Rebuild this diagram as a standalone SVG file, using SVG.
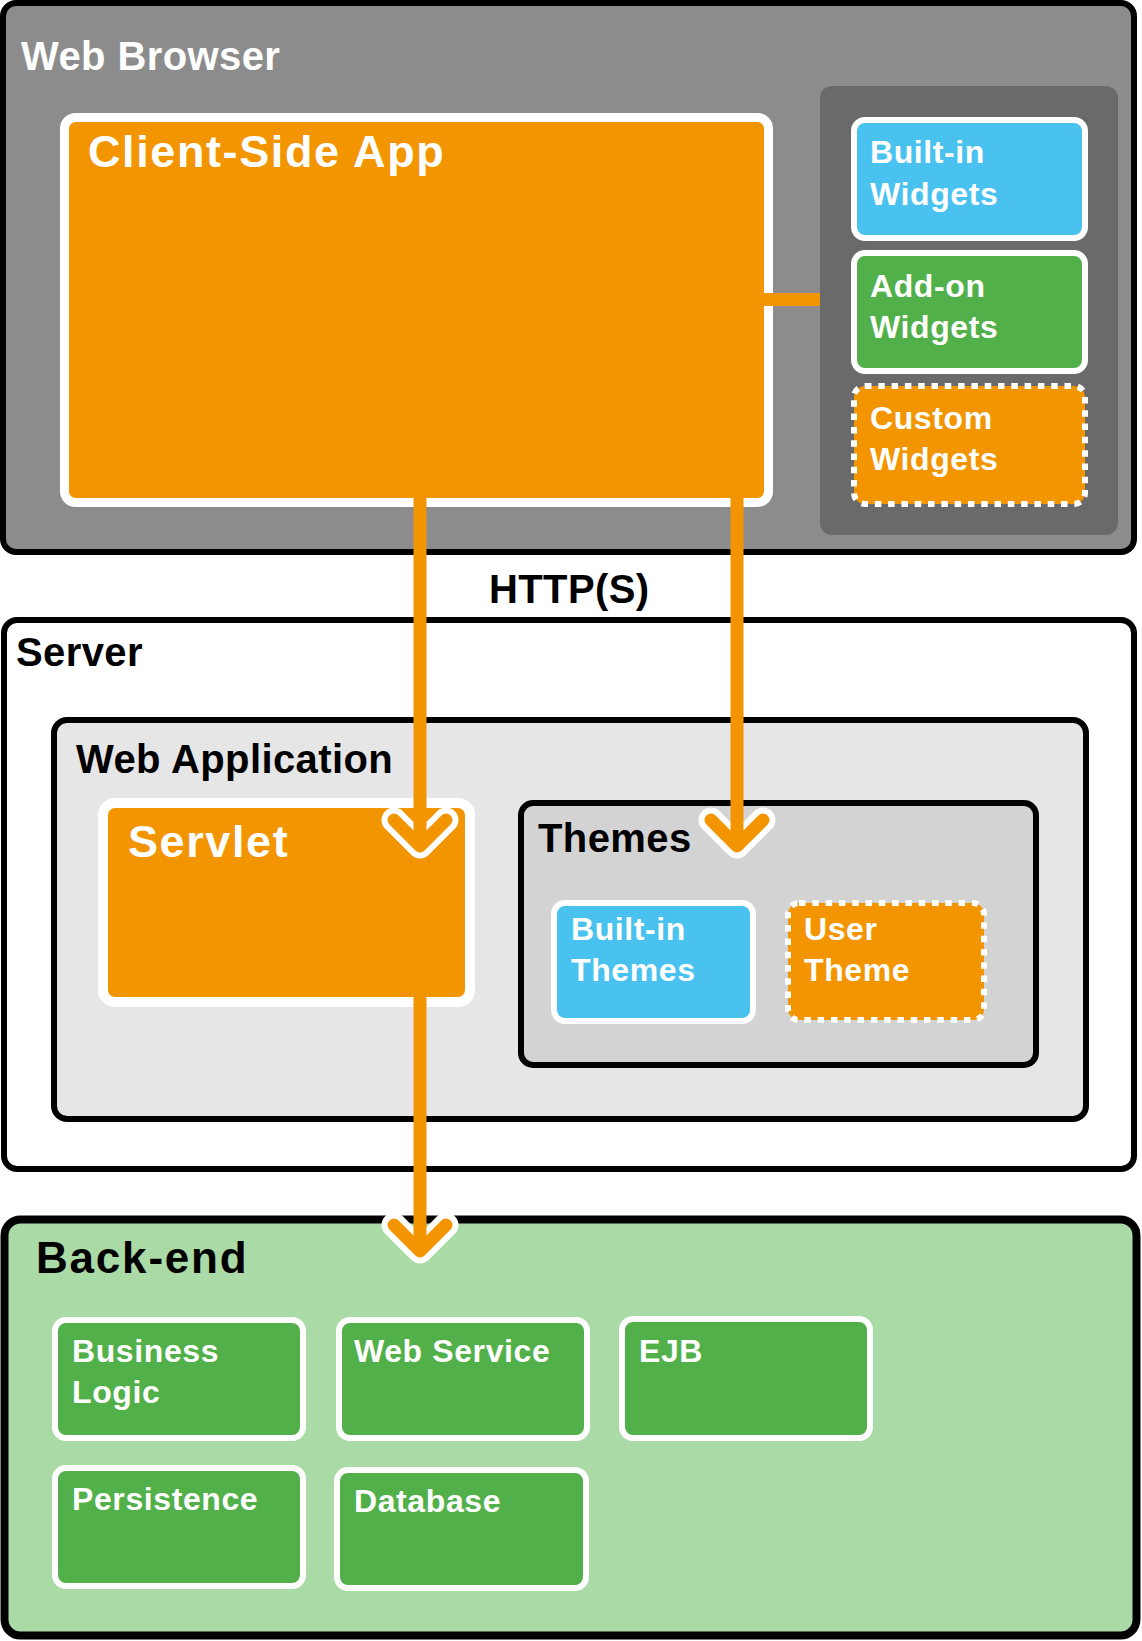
<svg xmlns="http://www.w3.org/2000/svg" width="1142" height="1641" viewBox="0 0 1142 1641">
<style>
.t{font-family:'Liberation Sans',Arial,sans-serif;font-weight:bold}
.w{fill:#fff}.k{fill:#000}
.big{font-size:45px;letter-spacing:1.6px}
.h{font-size:40px;letter-spacing:0.4px}
.s{font-size:32px;letter-spacing:0.6px}
.frame{stroke:#000;stroke-width:6}
.orange{fill:#f39500}
.blue{fill:#4ac2f0}
.green{fill:#52b04a}
.wb{stroke:#fff;stroke-width:6}
.dash{stroke:#fff;stroke-width:6;stroke-dasharray:6.5 6.8}
.shaft{fill:none;stroke:#f39500;stroke-width:13}
.halo{fill:none;stroke:#fff;stroke-width:25;stroke-linecap:round;stroke-linejoin:round}
.chev{fill:none;stroke:#f39500;stroke-width:13;stroke-linecap:round;stroke-linejoin:round}
</style>
<g id="web-browser">
<rect x="3" y="3" width="1131" height="549" rx="13" fill="#8c8c8c" class="frame"/>
<text class="t h w" x="21" y="70">Web Browser</text>
</g>
<g id="client-side-app">
<rect x="64.5" y="117.5" width="704" height="385" rx="11" class="orange" stroke="#fff" stroke-width="9"/>
<text class="t big w" x="88" y="167">Client-Side App</text>
</g>
<g id="widget-panel">
<rect x="820" y="86" width="298" height="449" rx="12" fill="#6a6a6a"/>
</g>
<g id="built-in-widgets">
<rect x="854" y="120" width="231" height="118" rx="11" class="blue wb"/>
<text class="t s w" x="870" y="163">Built-in</text>
<text class="t s w" x="870" y="205">Widgets</text>
</g>
<g id="add-on-widgets">
<rect x="854" y="253" width="231" height="118" rx="11" class="green wb"/>
<text class="t s w" x="870" y="297">Add-on</text>
<text class="t s w" x="870" y="338">Widgets</text>
</g>
<g id="custom-widgets">
<rect x="854" y="386" width="231" height="118" rx="11" class="orange dash"/>
<text class="t s w" x="870" y="429">Custom</text>
<text class="t s w" x="870" y="470">Widgets</text>
</g>
<g id="http-label">
<text class="t h k" x="489" y="603">HTTP(S)</text>
</g>
<g id="server">
<rect x="4" y="620" width="1130" height="549" rx="13" fill="#fff" class="frame"/>
<text class="t h k" x="16" y="666">Server</text>
</g>
<g id="web-application">
<rect x="54" y="720" width="1032" height="399" rx="13" fill="#e6e6e6" class="frame"/>
<text class="t h k" x="76" y="773">Web Application</text>
</g>
<g id="servlet">
<rect x="103" y="803" width="367" height="199" rx="12" class="orange" stroke="#fff" stroke-width="10"/>
<text class="t big w" x="128" y="857">Servlet</text>
</g>
<g id="themes">
<rect x="521" y="803" width="515" height="262" rx="12" fill="#d3d3d3" class="frame"/>
<text class="t h k" x="538" y="852">Themes</text>
</g>
<g id="built-in-themes">
<rect x="554" y="903" width="199" height="118" rx="11" class="blue wb"/>
<text class="t s w" x="571" y="940">Built-in</text>
<text class="t s w" x="571" y="981">Themes</text>
</g>
<g id="user-theme">
<rect x="788" y="903" width="196" height="117" rx="11" class="orange dash"/>
<text class="t s w" x="804" y="940">User</text>
<text class="t s w" x="804" y="981">Theme</text>
</g>
<g id="back-end">
<rect x="4.5" y="1219.5" width="1132" height="416" rx="16" fill="#aadba7" stroke="#000" stroke-width="8"/>
<text class="t k" x="36" y="1273" style="font-size:44px;letter-spacing:1.8px">Back-end</text>
</g>
<g id="business-logic">
<rect x="55" y="1320" width="248" height="118" rx="11" class="green wb"/>
<text class="t s w" x="72" y="1362">Business</text>
<text class="t s w" x="72" y="1403">Logic</text>
</g>
<g id="web-service">
<rect x="339" y="1320" width="248" height="118" rx="11" class="green wb"/>
<text class="t s w" x="354" y="1362">Web Service</text>
</g>
<g id="ejb">
<rect x="622" y="1319" width="248" height="119" rx="11" class="green wb"/>
<text class="t s w" x="639" y="1362">EJB</text>
</g>
<g id="persistence">
<rect x="55" y="1468" width="248" height="118" rx="11" class="green wb"/>
<text class="t s w" x="72" y="1510">Persistence</text>
</g>
<g id="database">
<rect x="337" y="1470" width="249" height="118" rx="11" class="green wb"/>
<text class="t s w" x="354" y="1512">Database</text>
</g>
<g id="connectors">
<path class="shaft" d="M760 299.5H820"/>
<polyline class="halo" points="394,820 420,846 446,820"/>
<path class="shaft" d="M420 490V840"/>
<polyline class="chev" points="394,820 420,846 446,820"/>
<polyline class="halo" points="711,820 737,846 763,820"/>
<path class="shaft" d="M737 490V840"/>
<polyline class="chev" points="711,820 737,846 763,820"/>
<polyline class="halo" points="394,1225 420,1251 446,1225"/>
<path class="shaft" d="M420 990V1245"/>
<polyline class="chev" points="394,1225 420,1251 446,1225"/>
</g>
</svg>
